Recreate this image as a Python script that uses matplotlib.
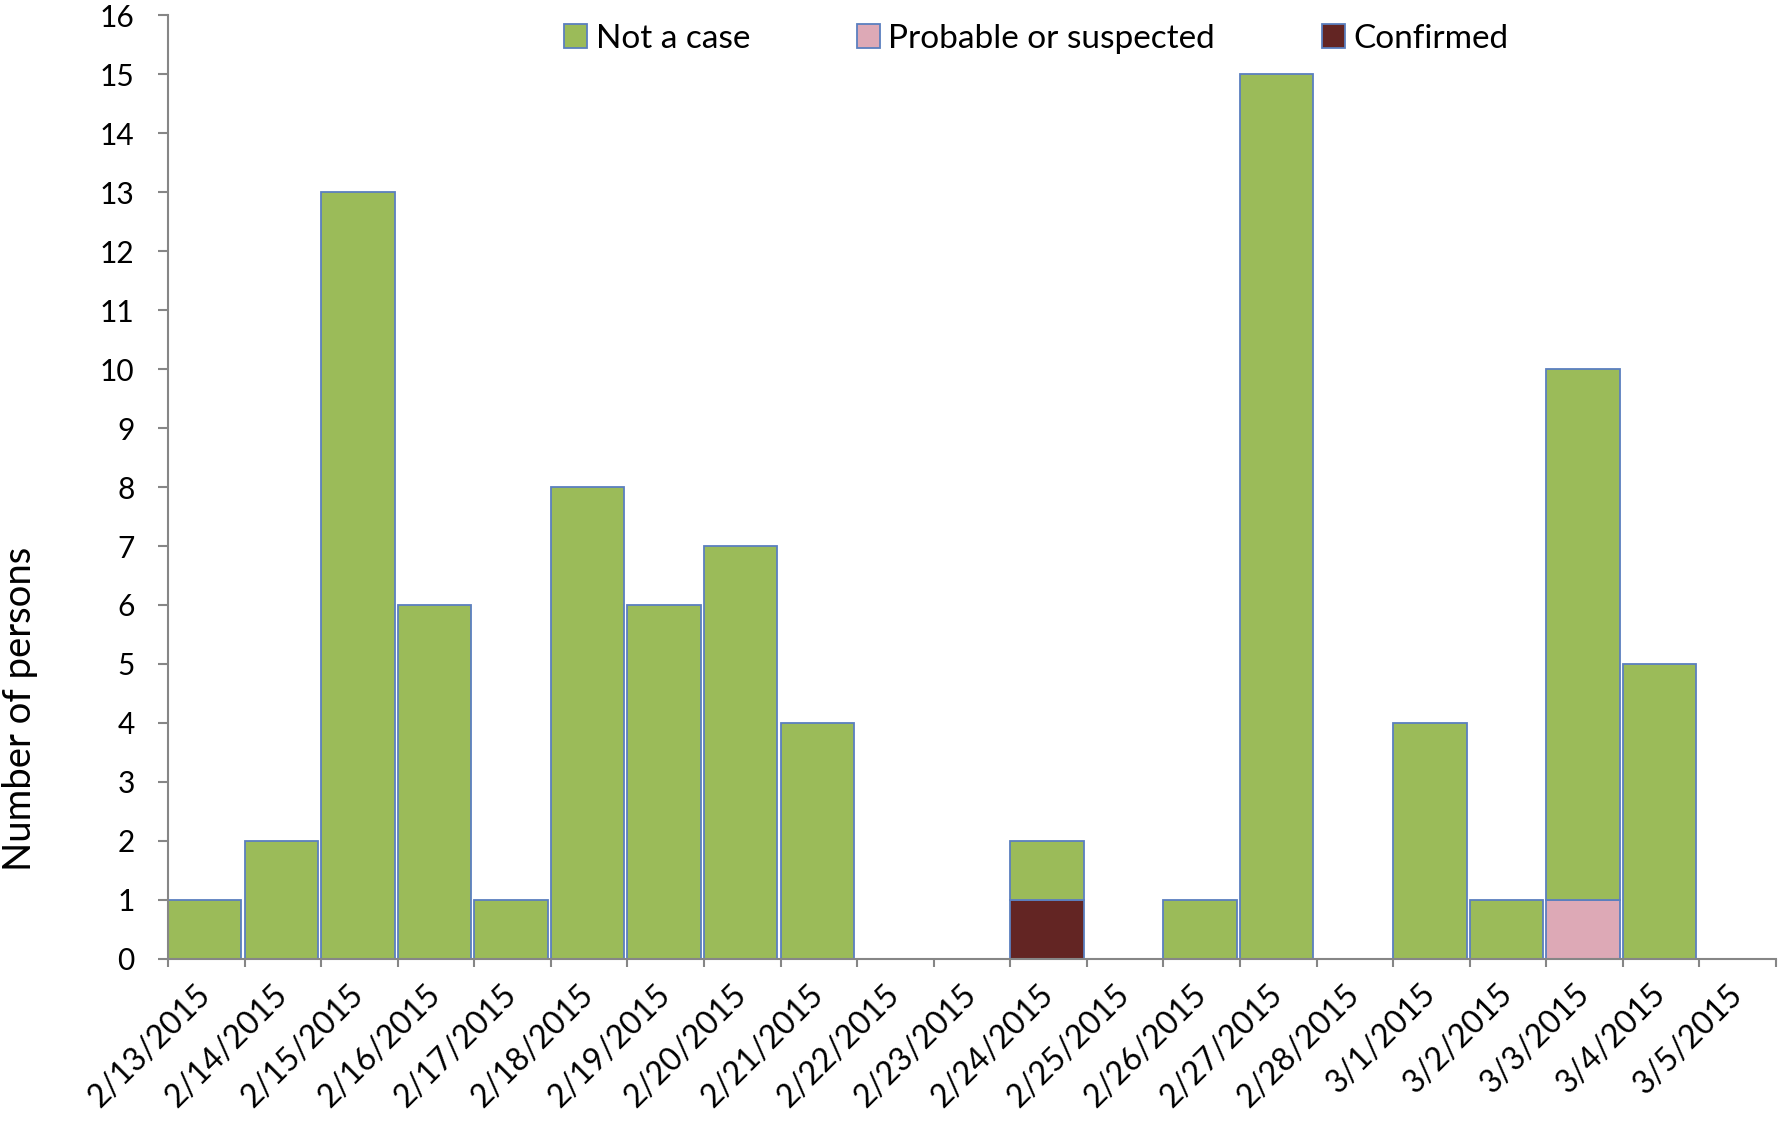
import matplotlib
matplotlib.use("Agg")
import matplotlib.pyplot as plt
import numpy as np

dates = ["2/13/2015", "2/14/2015", "2/15/2015", "2/16/2015", "2/17/2015", "2/18/2015",
         "2/19/2015", "2/20/2015", "2/21/2015", "2/22/2015", "2/23/2015", "2/24/2015",
         "2/25/2015", "2/26/2015", "2/27/2015", "2/28/2015", "3/1/2015", "3/2/2015",
         "3/3/2015", "3/4/2015", "3/5/2015"]
confirmed = [0, 0, 0, 0, 0, 0, 0, 0, 0, 0, 0, 1, 0, 0, 0, 0, 0, 0, 0, 0, 0]
probable = [0, 0, 0, 0, 0, 0, 0, 0, 0, 0, 0, 0, 0, 0, 0, 0, 0, 0, 1, 0, 0]
not_case = [1, 2, 13, 6, 1, 8, 6, 7, 4, 0, 0, 1, 0, 1, 15, 0, 4, 1, 9, 5, 0]
yticks = list(range(0, 17))

plt.rcParams['font.family'] = ['Lato', 'DejaVu Sans']
FS_Y = 21.5
FS_X = 23
FS_LEG = 24
FS_LAB = 27.5

fig = plt.figure(figsize=(17.79, 11.22), dpi=100)
ax = fig.add_axes([0.0944, 0.1453, 0.9983 - 0.0944, 0.9866 - 0.1453])

x = np.arange(len(dates))
conf = np.array(confirmed)
prob = np.array(probable)
notc = np.array(not_case)
edge = '#5B7FBF'
w = 0.96
c_green = '#9BBB59'
c_pink = '#DDA9B6'
c_conf = '#632523'

mask = conf > 0
ax.bar(x[mask], conf[mask], width=w, align='edge', color=c_conf, edgecolor=edge, linewidth=1.3, label='Confirmed')
mask = prob > 0
ax.bar(x[mask], prob[mask], bottom=conf[mask], width=w, align='edge', color=c_pink, edgecolor=edge, linewidth=1.3, label='Probable or suspected')
mask = notc > 0
ax.bar(x[mask], notc[mask], bottom=(conf + prob)[mask], width=w, align='edge', color=c_green, edgecolor=edge, linewidth=1.3, label='Not a case')

ax.set_xlim(0, len(dates))
ax.set_ylim(0, 16)
ax.set_yticks(yticks)
ax.set_yticklabels([str(v) for v in yticks], fontsize=FS_Y)

ax.set_xticks(np.arange(0, len(dates) + 1))
ax.set_xticklabels([])
ax.set_xticks(x + 0.5, minor=True)
ax.set_xticklabels(dates, minor=True, rotation=45, ha='right', va='center',
                   rotation_mode='anchor', fontsize=FS_X)

gray = '#868686'
for s in ['top', 'right']:
    ax.spines[s].set_visible(False)
for s in ['left', 'bottom']:
    ax.spines[s].set_color(gray)
    ax.spines[s].set_linewidth(1.5)
ax.tick_params(axis='y', which='major', length=7, width=1.5, color=gray, pad=17)
ax.tick_params(axis='x', which='major', length=6, width=1.5, color=gray)
ax.tick_params(axis='x', which='minor', length=0, pad=22)

ax.set_ylabel('Number of persons', fontsize=FS_LAB)
ax.yaxis.set_label_coords(-0.081, 0.265)

handles, labels = ax.get_legend_handles_labels()
order = [2, 1, 0]
leg = ax.legend([handles[i] for i in order], [labels[i] for i in order],
                loc='center', bbox_to_anchor=(0.54, 0.975), ncol=3, frameon=False,
                fontsize=FS_LEG, handlelength=0.7, handleheight=0.7, handletextpad=0.25,
                columnspacing=3.2, borderaxespad=0)

fig.savefig('out.png', dpi=100)
